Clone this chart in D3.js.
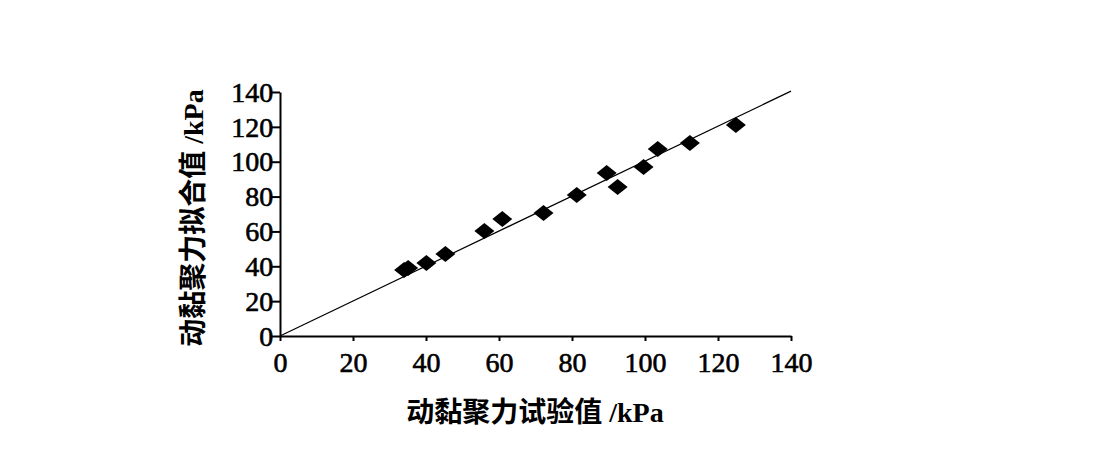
<!DOCTYPE html>
<html>
<head>
<meta charset="utf-8">
<script src="https://cdn.jsdelivr.net/npm/d3@7"></script>
<style>
  body { margin: 0; background: #fff; }
  text { font-family: "Liberation Serif", "Noto Sans CJK SC", serif; font-weight: bold; }
</style>
</head>
<body>
<svg id="chart" width="1100" height="466"></svg>
<script>
const measured = [34.0, 35.1, 40.1, 45.3, 56.0, 60.9, 72.2, 81.3, 89.5, 92.5, 99.6, 103.5, 112.3, 124.9];
const fitted = [37.9, 39.0, 41.9, 47.0, 60.2, 67.1, 70.6, 80.9, 93.5, 85.5, 97.0, 107.3, 110.7, 121.1];
const ticks = [0, 20, 40, 60, 80, 100, 120, 140];

const svg = d3.select("#chart");
const x = d3.scaleLinear().domain([0, 140]).range([280, 791]);
const y = d3.scaleLinear().domain([0, 140]).range([336, 92]);

const xAxis = svg.append("g")
  .attr("transform", "translate(0,336)")
  .call(d3.axisBottom(x).tickValues(ticks).tickSize(5).tickSizeOuter(0));
const yAxis = svg.append("g")
  .attr("transform", "translate(280,0)")
  .call(d3.axisLeft(y).tickValues(ticks).tickSize(8).tickSizeOuter(0));

[xAxis, yAxis].forEach((g) => {
  g.attr("font-size", null).attr("font-family", null);
  g.selectAll("path, line").attr("stroke", "#000").attr("stroke-width", 2);
  g.selectAll("text").style("font-size", "28px").attr("fill", "#000")
    .style("font-family", "Liberation Serif").style("font-weight", "normal")
    .attr("stroke", "#000").attr("stroke-width", 0.6);
});
xAxis.selectAll("text").attr("dy", "1.0em");
yAxis.selectAll("text").attr("dx", "0.15em").attr("dy", "0.33em");

// 1:1 line
svg.append("line")
  .attr("x1", x(0)).attr("y1", y(0))
  .attr("x2", x(140)).attr("y2", y(140.5))
  .attr("stroke", "#000").attr("stroke-width", 1.2);

const diamond = "M0,-8L10,0L0,8L-10,0Z";
svg.selectAll("path.pt")
  .data(measured)
  .enter()
  .append("path")
  .attr("class", "pt")
  .attr("d", diamond)
  .attr("transform", (d, i) => `translate(${x(d)},${y(fitted[i])})`)
  .attr("fill", "#000");

svg.append("text")
  .attr("x", 535).attr("y", 422)
  .attr("text-anchor", "middle")
  .style("font-size", "28px")
  .text("动黏聚力试验值 /kPa");

svg.append("text")
  .attr("transform", "translate(203,218) rotate(-90)")
  .attr("text-anchor", "middle")
  .style("font-size", "28px")
  .text("动黏聚力拟合值 /kPa");
</script>
</body>
</html>
